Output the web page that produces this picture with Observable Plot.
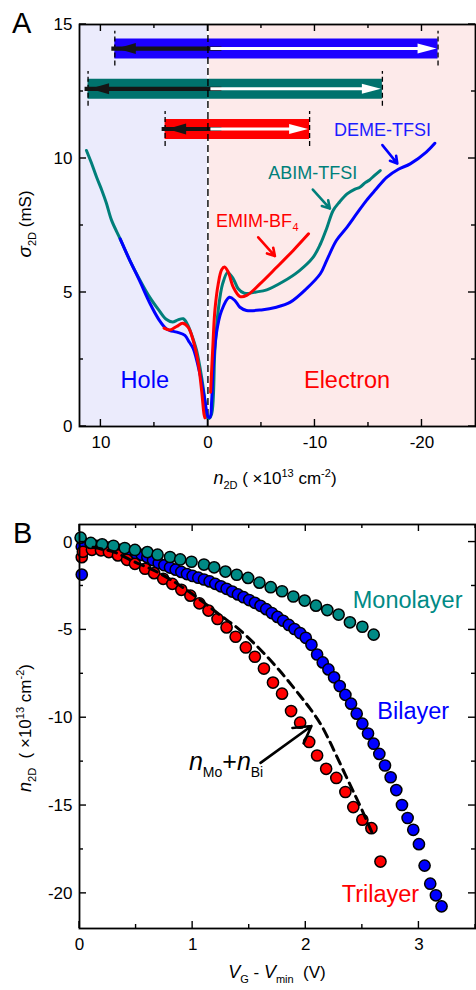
<!DOCTYPE html>
<html>
<head>
<meta charset="utf-8">
<script src="https://cdn.jsdelivr.net/npm/d3@7"></script>
<script src="https://cdn.jsdelivr.net/npm/@observablehq/plot@0.6"></script>
<style>
  html, body { margin: 0; padding: 0; background: #fff; }
  #wrap { position: relative; width: 476px; height: 990px; overflow: hidden; }
  #wrap svg { display: block; }
</style>
</head>
<body>
<div id="wrap"></div>
<script>
// ---------------- Panel A data ----------------
const liquids       = ["DEME-TFSI", "ABIM-TFSI", "EMIM-BF4"];
const maxHole       = [8.7, 11.2, 4.0];      // ×10^13 cm^-2
const maxElectron   = [-21.5, -16.3, -9.5];
const barLevel      = [14.1, 12.6, 11.1];    // mS (row of the range bar)

const regionNames = ["Hole", "Electron"];
const regionFrom  = [12, 0];
const regionTo    = [0, -25];

const abimX = [11.35,10.9,10.4,9.9,9.5,9.0,8.2,7.3,6.4,5.4,4.6,3.9,3.3,2.8,2.3,1.9,1.5,1.06,0.59,0.28,0.1,-0.1,-0.35,-0.65,-0.96,-1.37,-1.85,-2.37,-2.83,-3.4,-4.5,-5.5,-7.0,-8.5,-9.8,-10.5,-11.1,-11.7,-12.3,-13.0,-13.7,-14.2,-14.7,-15.1,-15.6,-16.1];
const abimY = [10.3,9.85,9.3,8.8,8.35,7.69,7.0,6.2,5.5,4.8,4.35,4.0,3.9,3.98,4.02,3.8,3.4,2.84,1.84,0.97,0.35,0.3,0.47,2.84,4.33,5.32,5.75,5.51,5.14,4.97,5.02,5.1,5.4,5.8,6.3,6.8,7.4,8.06,8.38,8.68,8.85,8.93,9.1,9.2,9.38,9.55];

const demeX = [8.2,7.3,6.4,5.4,4.6,3.9,3.55,2.9,2.15,1.75,1.37,0.75,0.28,-0.03,-0.2,-0.35,-0.5,-0.8,-1.28,-2.0,-2.52,-2.99,-3.6,-5.0,-6.4,-7.7,-9.2,-10.5,-11.1,-12.0,-13.0,-13.9,-14.8,-15.7,-16.7,-17.8,-18.9,-20.4,-21.2];
const demeY = [7.0,6.2,5.45,4.58,4.0,3.65,3.58,3.52,3.4,3.15,2.9,1.96,0.97,0.35,0.35,0.97,2.21,3.5,4.33,4.82,4.7,4.45,4.33,4.35,4.45,4.64,5.14,5.7,6.2,6.94,7.44,7.94,8.43,8.85,9.3,9.6,9.8,10.24,10.57];

const emimHoleX = [4.1,3.55,2.93,2.37,1.84,1.37,0.9,0.59,0.37,0.28];
const emimHoleY = [3.67,3.6,3.73,3.85,3.7,3.2,2.34,1.34,0.47,0.32];
const emimElecX = [-0.25,-0.44,-0.65,-0.96,-1.28,-1.55,-1.9,-2.37,-3.0,-3.62,-4.86,-6.42,-7.97,-9.4];
const emimElecY = [1.28,2.84,4.33,5.32,5.85,5.95,5.76,5.2,4.85,4.89,5.32,5.94,6.57,7.19];

const aXTicks      = [10, 0, -10, -20];
const aXMinorTicks = [5, -5, -15];
const aYTicks      = [0, 5, 10, 15];
const aYMinorTicks = [2.5, 7.5, 12.5];

// ---------------- Panel B data ----------------
const monoX = [0.01,0.10,0.20,0.30,0.40,0.49,0.60,0.69,0.80,0.89,0.99,1.10,1.19,1.29,1.39,1.49,1.59,1.69,1.79,1.89,1.99,2.09,2.19,2.29,2.39,2.50,2.60];
const monoY = [0.25,-0.05,-0.13,-0.21,-0.34,-0.45,-0.57,-0.72,-0.85,-0.99,-1.12,-1.28,-1.44,-1.68,-1.86,-2.04,-2.31,-2.57,-2.80,-3.10,-3.33,-3.62,-3.87,-4.13,-4.57,-4.82,-5.27];

const biX = [0.02,0.02,0.05,0.10,0.15,0.20,0.25,0.30,0.35,0.40,0.45,0.50,0.55,0.60,0.65,0.70,0.75,0.80,0.85,0.90,0.95,1.00,1.05,1.10,1.15,1.20,1.25,1.30,1.35,1.40,1.45,1.50,1.55,1.60,1.65,1.70,1.75,1.80,1.85,1.90,1.95,2.00,2.05,2.10,2.15,2.20,2.25,2.30,2.35,2.40,2.45,2.50,2.55,2.60,2.65,2.70,2.75,2.80,2.85,2.90,2.95,3.00,3.05,3.10,3.15,3.20];
const biY = [-0.26,-1.85,-0.12,-0.16,-0.21,-0.26,-0.32,-0.38,-0.45,-0.52,-0.59,-0.66,-0.73,-0.86,-1.03,-1.2,-1.32,-1.45,-1.57,-1.7,-1.82,-1.93,-2.03,-2.13,-2.24,-2.38,-2.52,-2.66,-2.82,-2.98,-3.14,-3.3,-3.46,-3.63,-3.82,-4.04,-4.26,-4.48,-4.72,-4.95,-5.18,-5.45,-5.85,-6.4,-6.85,-7.25,-7.7,-8.2,-8.7,-9.2,-9.77,-10.34,-10.9,-11.48,-12.06,-12.72,-13.39,-14.12,-14.97,-15.71,-16.38,-17.2,-18.42,-19.45,-20.11,-20.74];

const triX = [0.02,0.03,0.11,0.19,0.26,0.34,0.42,0.49,0.58,0.66,0.74,0.82,0.90,0.98,1.06,1.14,1.22,1.30,1.38,1.47,1.55,1.63,1.71,1.79,1.87,1.95,2.03,2.10,2.18,2.27,2.35,2.42,2.50,2.58,2.66];
const triY = [-0.86,-0.55,-0.44,-0.47,-0.57,-0.76,-1.01,-1.24,-1.52,-1.77,-2.09,-2.38,-2.72,-3.05,-3.49,-3.90,-4.38,-4.86,-5.39,-6.0,-6.53,-7.2,-8.0,-8.63,-9.62,-10.28,-11.38,-12.15,-12.91,-13.43,-14.23,-15.09,-15.81,-16.29,-18.19];

const sumX = [0.12,0.3,0.46,0.7,0.91,1.1,1.24,1.39,1.58,1.77,1.95,2.04,2.13,2.2,2.27,2.35,2.42,2.5,2.6];
const sumY = [-0.3,-0.55,-1.05,-1.75,-2.57,-3.45,-4.15,-4.86,-6.0,-7.33,-8.75,-9.5,-10.35,-11.2,-12.15,-13.25,-14.2,-15.3,-16.76];

const bXTicks      = [0, 1, 2, 3];
const bXMinorTicks = [0.5, 1.5, 2.5, 3.5];
const bYTicks      = [0, -5, -10, -15, -20];
const bYMinorTicks = [-2.5, -7.5, -12.5, -17.5];

// ---------------- helpers ----------------
const FONT = "'Liberation Sans', Arial, Helvetica, sans-serif";
const BLUE = "#0000ff", TEAL = "#007f7a", RED = "#ff0000";
const barColors = ["#1c00ff", "#00726d", "#ff0000"];
const zip = (xs, ys) => xs.map((x, i) => ({x, y: ys[i]}));
const fmt = d => String(d);

// filled arrow heads whose tip sits on the anchor point
const headLeft  = {draw(c) { c.moveTo(0, 0); c.lineTo(19, -5.5); c.lineTo(19, 5.5); c.closePath(); }};
const headRight = {draw(c) { c.moveTo(0, 0); c.lineTo(-19, -5); c.lineTo(-19, 5); c.closePath(); }};

function frameAxes(xMaj, yMaj) {
  return [
    Plot.axisX({anchor: "bottom", ticks: xMaj, tickSize: 0, tickPadding: 9, tickFormat: fmt, label: null, fontSize: 17, fill: "black"}),
    Plot.axisY({anchor: "left", ticks: yMaj, tickSize: 0, tickPadding: 7, tickFormat: fmt, label: null, fontSize: 17, fill: "black"}),
    Plot.frame({stroke: "black", strokeWidth: 1.8})
  ];
}

// inward ticks on all four sides, positioned by the plot's own scales
const MAJ = 7, MIN = 4;
function inwardTicks(plot, xMaj, xMin, yMaj, yMin) {
  const sx = plot.scale("x"), sy = plot.scale("y");
  const left = Math.min(...sx.range), right = Math.max(...sx.range);
  const top = Math.min(...sy.range), bottom = Math.max(...sy.range);
  const g = d3.select(plot).append("g").attr("stroke", "black").attr("stroke-width", 1.4).attr("fill", "none");
  const xt = [...xMaj.map(v => [v, MAJ]), ...xMin.map(v => [v, MIN])];
  const yt = [...yMaj.map(v => [v, MAJ]), ...yMin.map(v => [v, MIN])];
  for (const [v, len] of xt) {
    const X = sx.apply(v);
    g.append("line").attr("x1", X).attr("x2", X).attr("y1", bottom).attr("y2", bottom - len);
    g.append("line").attr("x1", X).attr("x2", X).attr("y1", top).attr("y2", top + len);
  }
  for (const [v, len] of yt) {
    const Y = sy.apply(v);
    g.append("line").attr("y1", Y).attr("y2", Y).attr("x1", left).attr("x2", left + len);
    g.append("line").attr("y1", Y).attr("y2", Y).attr("x1", right).attr("x2", right - len);
  }
}

function richText(svg, parts, {x, y, rotate = false, size = 17, anchor = "middle", fill = "black"}) {
  const t = d3.select(svg).append("text")
    .attr("text-anchor", anchor)
    .attr("font-family", FONT)
    .attr("font-size", size)
    .attr("fill", fill);
  if (rotate) t.attr("transform", `translate(${x},${y}) rotate(-90)`);
  else t.attr("x", x).attr("y", y);
  let shift = 0;
  for (const p of parts) {
    const ts = t.append("tspan").text(p.t);
    if (p.i) ts.attr("font-style", "italic");
    if (p.size) ts.attr("font-size", p.size);
    const s = p.s || 0;
    if (s !== shift) ts.attr("dy", s - shift);
    shift = s;
  }
  return t;
}

// ---------------- Panel A ----------------
const bars = liquids.map((name, i) => ({name, hole: maxHole[i], electron: maxElectron[i], level: barLevel[i], color: barColors[i]}));
const barEnds = bars.flatMap(b => [{x: b.hole, level: b.level}, {x: b.electron, level: b.level}]);
const regions = regionNames.map((name, i) => ({name, x1: regionFrom[i], x2: regionTo[i]}));

const plotA = Plot.plot({
  width: 476, height: 500, marginLeft: 79, marginRight: 1, marginTop: 24, marginBottom: 74,
  style: {fontFamily: FONT, fontSize: "17px", color: "black", background: "transparent", overflow: "visible"},
  x: {domain: [12, -25]},
  y: {domain: [0, 15]},
  marks: [
    Plot.rect(regions, {x1: "x1", x2: "x2", fill: (d, i) => i === 0 ? "#ebebfc" : "#fdeaea"}),
    Plot.ruleX([0], {stroke: "white", strokeWidth: 2}),
    ...bars.map(b => Plot.ruleY([b], {y: "level", x1: "hole", x2: "electron", stroke: b.color, strokeWidth: 20})),
    Plot.ruleX(barEnds, {x: "x", y1: d => d.level - 0.65, y2: d => d.level + 0.65, stroke: "black", strokeWidth: 1.3, strokeDasharray: "5,3"}),
    // black (hole) arrows
    Plot.ruleY(bars, {y: "level", x1: 0, x2: "hole", stroke: "#151515", strokeWidth: 4.2, insetLeft: 14, insetRight: 3}),
    Plot.dot(bars, {x: "hole", y: "level", symbol: headLeft, fill: "#151515", stroke: "none", dx: 2}),
    // white (electron) arrows
    Plot.ruleY(bars, {y: "level", x1: 0, x2: "electron", stroke: "white", strokeWidth: 3, insetLeft: 3, insetRight: 14}),
    Plot.dot(bars, {x: "electron", y: "level", symbol: headRight, fill: "white", stroke: "none", dx: -1.5}),
    Plot.ruleX([0], {stroke: "black", strokeWidth: 1.4, strokeDasharray: "7,4"}),
    Plot.line(zip(abimX, abimY), {x: "x", y: "y", stroke: TEAL, strokeWidth: 3, curve: "catmull-rom"}),
    Plot.line(zip(demeX, demeY), {x: "x", y: "y", stroke: BLUE, strokeWidth: 3, curve: "catmull-rom"}),
    Plot.line(zip(emimHoleX, emimHoleY), {x: "x", y: "y", stroke: RED, strokeWidth: 3, curve: "catmull-rom"}),
    Plot.line(zip(emimElecX, emimElecY), {x: "x", y: "y", stroke: RED, strokeWidth: 3, curve: "catmull-rom"}),
    Plot.text(regions, {x: (d, i) => [5.9, -13.0][i], y: 1.72, text: "name", fill: (d, i) => i === 0 ? BLUE : RED, fontSize: 23.5}),
    Plot.text(["DEME-TFSI"], {x: -16.3, y: 11.05, text: d => d, fill: "#1c1cff", fontSize: 18}),
    Plot.text(["ABIM-TFSI"], {x: -9.8, y: 9.44, text: d => d, fill: TEAL, fontSize: 18}),
    Plot.text(["EMIM-BF"], {x: -7.85, y: 7.65, text: d => d, fill: RED, fontSize: 18, textAnchor: "end"}),
    Plot.text(["4"], {x: -7.85, y: 7.65, text: d => d, fill: RED, fontSize: 11, textAnchor: "start", dy: 6, dx: 0.5}),
    Plot.arrow([{x1: -16.3, y1: 10.5, x2: -17.7, y2: 9.81}], {x1: "x1", y1: "y1", x2: "x2", y2: "y2", stroke: BLUE, strokeWidth: 2.6, headLength: 9}),
    Plot.arrow([{x1: -9.8, y1: 8.84, x2: -11.4, y2: 8.13}], {x1: "x1", y1: "y1", x2: "x2", y2: "y2", stroke: TEAL, strokeWidth: 2.6, headLength: 9}),
    Plot.arrow([{x1: -4.7, y1: 7.06, x2: -6.26, y2: 6.36}], {x1: "x1", y1: "y1", x2: "x2", y2: "y2", stroke: RED, strokeWidth: 2.6, headLength: 9}),
    ...frameAxes(aXTicks, aYTicks)
  ]
});

// ---------------- Panel B ----------------
const plotB = Plot.plot({
  width: 476, height: 490, marginLeft: 79, marginRight: 1, marginTop: 24, marginBottom: 62,
  style: {fontFamily: FONT, fontSize: "17px", color: "black", background: "transparent", overflow: "visible"},
  x: {domain: [0, 3.5]},
  y: {domain: [-22, 1]},
  marks: [
    Plot.dot(zip(biX, biY), {x: "x", y: "y", r: 5.6, fill: BLUE, stroke: "black", strokeWidth: 1.5}),
    Plot.dot(zip(triX, triY), {x: "x", y: "y", r: 5.6, fill: RED, stroke: "black", strokeWidth: 1.5}),
    Plot.dot(zip(monoX, monoY), {x: "x", y: "y", r: 5.6, fill: "#008a85", stroke: "black", strokeWidth: 1.5}),
    Plot.line(zip(sumX, sumY), {x: "x", y: "y", stroke: "black", strokeWidth: 3, strokeDasharray: "9,6", curve: "catmull-rom"}),
    Plot.arrow([{x1: 1.60, y1: -12.57, x2: 2.05, y2: -10.47}], {x1: "x1", y1: "y1", x2: "x2", y2: "y2", stroke: "black", strokeWidth: 2.6, headLength: 11}),
    Plot.text(["Monolayer"], {x: 2.90, y: -3.33, text: d => d, fill: "#008a85", fontSize: 23.5}),
    Plot.text(["Bilayer"], {x: 2.95, y: -9.67, text: d => d, fill: BLUE, fontSize: 23.5}),
    Plot.text(["Trilayer"], {x: 2.66, y: -20.07, text: d => d, fill: RED, fontSize: 23.5}),
    ...frameAxes(bXTicks, bYTicks)
  ]
});

const wrap = document.getElementById("wrap");
wrap.appendChild(plotA);
wrap.appendChild(plotB);

inwardTicks(plotA, aXTicks, aXMinorTicks, aYTicks, aYMinorTicks);
inwardTicks(plotB, bXTicks, bXMinorTicks, bYTicks, bYMinorTicks);

// rich-text labels (sub/superscripts)
richText(plotA, [{t: "A"}], {x: 12, y: 33, size: 29, anchor: "start"});
richText(plotA, [{t: "σ", i: true, size: 19}, {t: "2D", size: 11, s: 5}, {t: " (mS)", s: 0}], {x: 31, y: 224, rotate: true});
richText(plotA, [{t: "n", i: true, size: 18}, {t: "2D", size: 11, s: 5}, {t: " ( ×10", s: 0}, {t: "13", size: 11, s: -7}, {t: " cm", s: 0}, {t: "-2", size: 11, s: -7}, {t: ")", s: 0}], {x: 275, y: 484});

richText(plotB, [{t: "B"}], {x: 13, y: 43, size: 29, anchor: "start"});
richText(plotB, [{t: "n", i: true, size: 18}, {t: "2D", size: 11, s: 5}, {t: "  ( ×10", s: 0}, {t: "13", size: 11, s: -7}, {t: " cm", s: 0}, {t: "-2", size: 11, s: -7}, {t: ")", s: 0}], {x: 31, y: 228, rotate: true});
richText(plotB, [{t: "V", i: true, size: 18}, {t: "G", size: 11, s: 5}, {t: " - ", s: 0}, {t: "V", i: true, size: 18}, {t: "min", size: 11, s: 5}, {t: "  (V)", s: 0}], {x: 277, y: 478});

const sxB = plotB.scale("x"), syB = plotB.scale("y");
richText(plotB, [{t: "n", i: true, size: 25}, {t: "Mo", size: 14, s: 7}, {t: "+", size: 25, s: 0}, {t: "n", i: true, size: 25}, {t: "Bi", size: 14, s: 7}],
  {x: sxB.apply(1.30), y: syB.apply(-13.0)});
</script>
</body>
</html>
